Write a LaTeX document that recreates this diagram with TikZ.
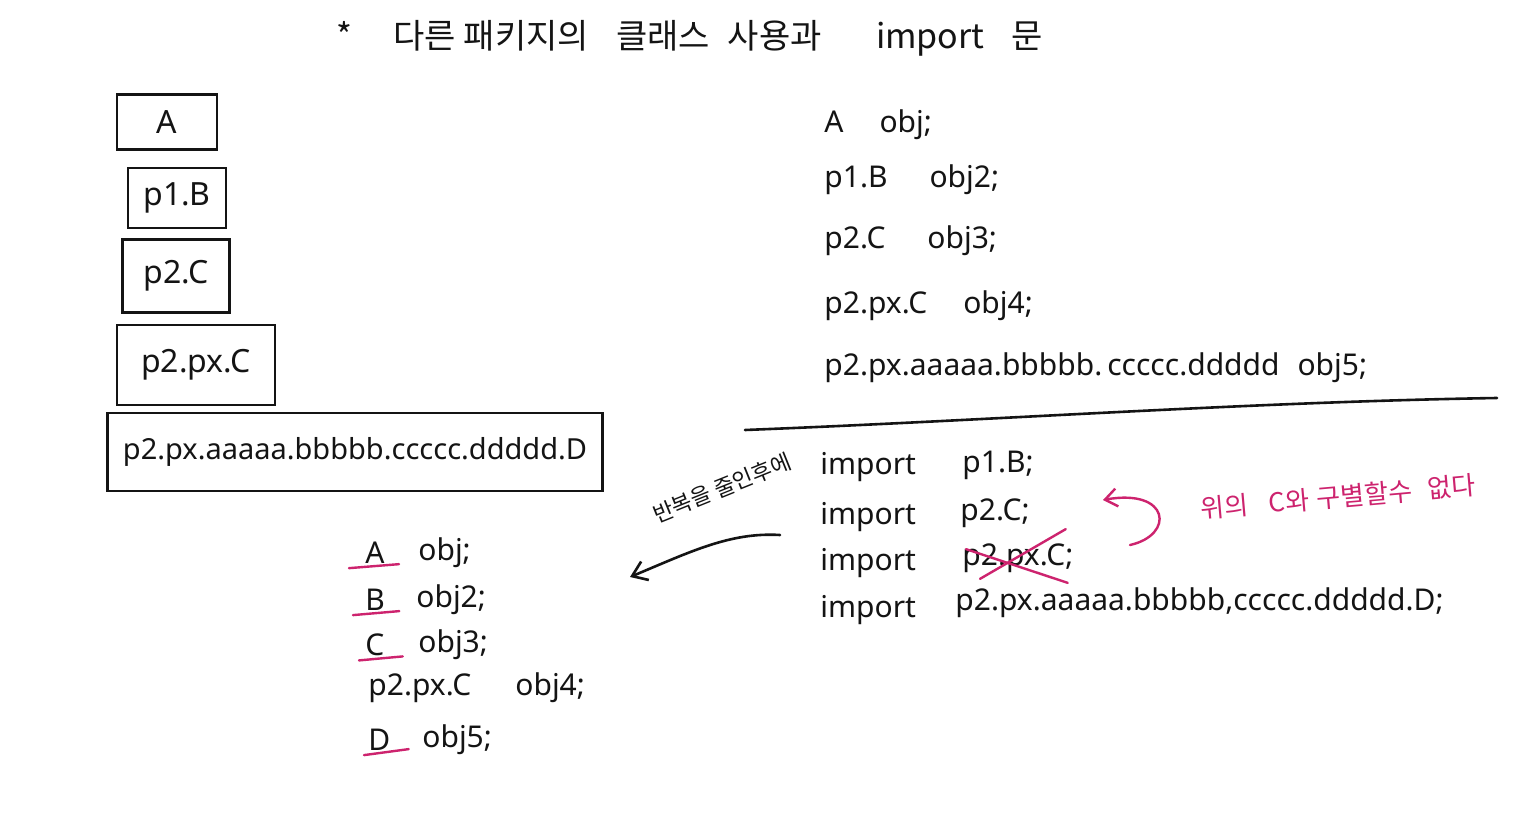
\documentclass[tikz,border=0pt]{standalone}
\usepackage{fontspec}
\setmainfont{Noto Sans}
\newfontfamily\kr{Noto Sans CJK KR}
\usetikzlibrary{arrows.meta}
\definecolor{ink}{RGB}{20,20,20}
\definecolor{pinkink}{RGB}{205,35,110}
\begin{document}
\begin{tikzpicture}[x=0.5pt,y=-0.5pt,
  every node/.style={text=ink,inner sep=1pt},
  box/.style={draw=ink,line width=1.3pt,rectangle,font=\fontsize{16}{18}\selectfont},
  code/.style={anchor=west,font=\fontsize{15}{18}\selectfont},
  small/.style={anchor=west,font=\fontsize{15}{18}\selectfont},
  pinkline/.style={draw=pinkink,line width=1.2pt,line cap=round},
  inkline/.style={draw=ink,line width=1.3pt,line cap=round}]
\fill[white] (0,0) rectangle (1533,819);
\useasboundingbox (0,0) rectangle (1533,819);

% title
\node[font=\kr\fontsize{17}{20}\selectfont] (title) at (690,38) {*\hspace{1.2em}다른 패키지의\hspace{0.8em}클래스\hspace{0.3em} 사용과\hspace{1.6em}import\hspace{0.8em}문};

% left boxes
\node[box,minimum width=50pt,minimum height=27.5pt] (bA) at (167,122) {A};
\node[box,minimum width=49pt,minimum height=30pt] (bB) at (177,198) {p1.B};
\node[box,minimum width=53.5pt,minimum height=36.5pt] (bC) at (176,276) {p2.C};
\node[box,minimum width=79pt,minimum height=40pt] (bPX) at (196,365) {p2.px.C};
\node[box,minimum width=247.5pt,minimum height=39pt,font=\fontsize{14.5}{17}\selectfont] (bD) at (355,452) {p2.px.aaaaa.bbbbb.ccccc.ddddd.D};

% right declarations
\node[code] (d1) at (822,125) {A\hspace{1.2em}obj;};
\node[code] (d2) at (822,180) {p1.B\hspace{1.4em}obj2;};
\node[code] (d3) at (822,241) {p2.C\hspace{1.4em}obj3;};
\node[code] (d4) at (822,306) {p2.px.C\hspace{1.2em}obj4;};
\node[code] (d5) at (822,368) {p2.px.aaaaa.bbbbb.\,ccccc.ddddd\hspace{0.6em}obj5;};

% separator
\coordinate (sepL) at (745,430);
\coordinate (sepR) at (1497,398);
\draw[inkline] (sepL) .. controls (1000,420) and (1250,402) .. (sepR);

% imports
\node[code] (i1) at (818,467) {import};
\node[code] (i2) at (818,517) {import};
\node[code] (i3) at (818,563) {import};
\node[code] (i4) at (818,610) {import};
\node[code] (c1) at (960,465) {p1.B;};
\node[code] (c2) at (958,513) {p2.C;};
\node[code] (c3) at (960,558) {p2.px.C;};
\node[code] (c4) at (953,603) {p2.px.aaaaa.bbbbb,ccccc.ddddd.D;};

% pink cross over p2.px.C
\draw[pinkline] ([xshift=10pt,yshift=-2pt]c3.south west) -- ([xshift=-5pt,yshift=6pt]c3.north east);
\draw[pinkline] ([xshift=3pt,yshift=-4pt]c3.north west) -- ([xshift=-4pt,yshift=-4pt]c3.south east);

% pink curved arrow and note
\coordinate (pa) at (1130,545);
\coordinate (pb) at (1103,500);
\draw[pinkline,-{Straight Barb[length=6pt,width=9pt]}] (pa) .. controls (1175,535) and (1170,488) .. (pb);
\node[text=pinkink,font=\kr\fontsize{13}{16}\selectfont,rotate=5] (note) at (1338,497) {위의\hspace{0.8em}C와\hspace{0.3em}구별할수\hspace{0.6em}없다};

% black arrow and label
\coordinate (arS) at (780,535);
\coordinate (arE) at (630,577);
\draw[inkline,-{Straight Barb[length=7pt,width=10pt]}] (arS) .. controls (730,532) and (690,552) .. (arE);
\node[font=\kr\fontsize{11}{13}\selectfont,rotate=22] (lbl) at (722,488) {반복을 줄인후에};

% bottom-left result list
\node[small] (nA) at (363,553) {A};
\node[small] (nB) at (363,600) {B};
\node[small] (nC) at (363,645) {C};
\node[small] (nP) at (366,688) {p2.px.C};
\node[small] (nD) at (366,740) {D};
\node[small] (oA) at (416,553) {obj;};
\node[small] (oB) at (414,600) {obj2;};
\node[small] (oC) at (416,645) {obj3;};
\node[small] (oP) at (513,688) {obj4;};
\node[small] (oD) at (420,740) {obj5;};
\draw[pinkline] ([xshift=-7pt,yshift=-1pt]nA.south west) -- ([xshift=6pt,yshift=1pt]nA.south east);
\draw[pinkline] ([xshift=-5pt,yshift=-1pt]nB.south west) -- ([xshift=6pt,yshift=1pt]nB.south east);
\draw[pinkline] ([xshift=-2pt,yshift=-1pt]nC.south west) -- ([xshift=8pt,yshift=1pt]nC.south east);
\draw[pinkline] ([xshift=-1pt,yshift=-1pt]nD.south west) -- ([xshift=8pt,yshift=2pt]nD.south east);
\end{tikzpicture}
\end{document}
